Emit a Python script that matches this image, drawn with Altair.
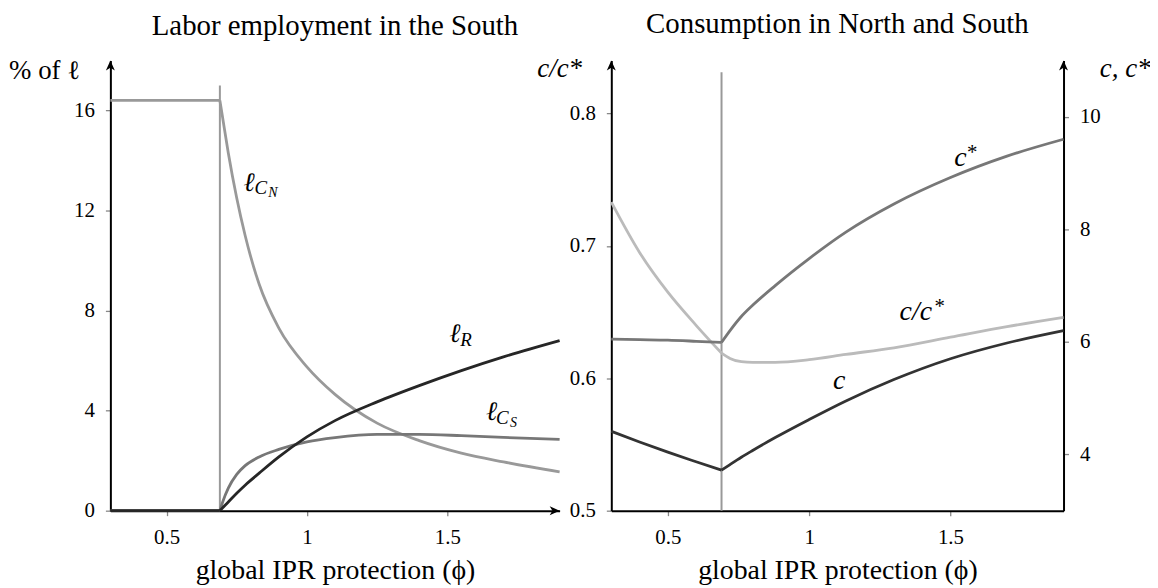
import altair as alt
import pandas as pd

threshold = 0.69

# ---------------- Left panel: labor employment in the South (% of l) ----------------
phi_l_pre = [0.3, 0.69]
lCN_pre = [16.4, 16.4]
lR_pre = [0.0, 0.0]
lCS_pre = [0.0, 0.0]
phi_l_post = [0.69, 0.70, 0.72, 0.75, 0.78, 0.83, 0.90, 1.00, 1.10, 1.25, 1.40, 1.55, 1.70, 1.90]
lCN_post = [16.4, 15.7, 14.3, 12.5, 11.0, 9.05, 7.3, 5.75, 4.65, 3.5, 2.8, 2.3, 1.95, 1.55]
lR_post = [0.0, 0.12, 0.35, 0.70, 1.02, 1.50, 2.15, 2.95, 3.60, 4.35, 5.00, 5.60, 6.15, 6.80]
lCS_post = [0.0, 0.35, 0.90, 1.45, 1.80, 2.15, 2.45, 2.75, 2.92, 3.05, 3.05, 3.00, 2.93, 2.85]

# ---------------- Right panel: consumption in North and South ----------------
phi_r_pre = [0.3, 0.4, 0.5, 0.6, 0.69]
ratio_pre = [0.733, 0.695, 0.665, 0.640, 0.619]
c_pre = [4.41, 4.22, 4.04, 3.87, 3.72]
cstar_pre = [6.05, 6.04, 6.03, 6.01, 5.99]
phi_r_post = [0.69, 0.72, 0.76, 0.80, 0.88, 1.00, 1.13, 1.30, 1.50, 1.70, 1.90]
ratio_post = [0.619, 0.615, 0.6125, 0.612, 0.612, 0.614, 0.618, 0.623, 0.631, 0.639, 0.646]
c_post = [3.72, 3.82, 3.95, 4.07, 4.30, 4.62, 4.95, 5.33, 5.70, 5.98, 6.20]
cstar_post = [5.99, 6.20, 6.45, 6.65, 7.00, 7.48, 7.95, 8.45, 8.92, 9.30, 9.60]

x_ticks = [0.5, 1, 1.5]
left_y_ticks = [0, 4, 8, 12, 16]
ratio_ticks = [0.5, 0.6, 0.7, 0.8]
c_ticks = [4, 6, 8, 10]

X_DOMAIN = [0.3, 1.9]
L_DOMAIN = [0, 18]
R_DOMAIN = [0.5, 0.84]
C_DOMAIN = [3, 11]

FONT = "Liberation Serif"
ARROW = "M0,0 L-0.9,2 L0,1.45 L0.9,2 Z"


def seg_df(pre_x, pre_y, post_x, post_y):
    return pd.DataFrame({
        "phi": list(pre_x) + list(post_x),
        "v": list(pre_y) + list(post_y),
        "seg": ["a"] * len(pre_x) + ["b"] * len(post_x),
    })


x_axis = alt.Axis(values=x_ticks, format="~g", title="global IPR protection (ϕ)",
                  titleFontSize=28, titleY=68, titleBaseline="alphabetic")
X = alt.X("phi:Q", scale=alt.Scale(domain=X_DOMAIN, nice=False, zero=False), axis=x_axis)


def lines(df, color, Y, width=2.8):
    return alt.Chart(df).mark_line(color=color, strokeWidth=width, interpolate="monotone").encode(
        x=X, y=Y, detail="seg:N")


def label(pieces, phi, v, Y):
    layers = []
    for text, dx, dy, size in pieces:
        d = pd.DataFrame({"phi": [phi], "v": [v], "t": [text]})
        layers.append(alt.Chart(d).mark_text(
            align="left", baseline="alphabetic", font=FONT, fontStyle="italic",
            fontSize=size, dx=dx, dy=dy, color="black").encode(x=X, y=Y, text="t:N"))
    return layers


def arrow(phi, v, Y, angle=0):
    d = pd.DataFrame({"phi": [phi], "v": [v]})
    return alt.Chart(d).mark_point(shape=ARROW, size=100, filled=True, color="black",
                                   opacity=1, strokeWidth=0, angle=angle).encode(x=X, y=Y)


# ---------------- Left chart ----------------
YL = alt.Y("v:Q", scale=alt.Scale(domain=L_DOMAIN, nice=False),
           axis=alt.Axis(values=left_y_ticks, format="d", title="% of ℓ", titleAngle=0,
                         titleAlign="right", titleBaseline="alphabetic", titleX=-31, titleY=18,
                         titleFontSize=27))

rule_l = alt.Chart(pd.DataFrame({"phi": [threshold], "v": [0.0], "v2": [17.0]})).mark_rule(
    color="#999999", strokeWidth=2).encode(x=X, y=YL, y2="v2:Q")

left_layers = [
    rule_l,
    lines(seg_df(phi_l_pre, lCN_pre, phi_l_post, lCN_post), "#999999", YL),
    lines(seg_df(phi_l_pre, lCS_pre, phi_l_post, lCS_post), "#777777", YL),
    lines(seg_df(phi_l_pre, lR_pre, phi_l_post, lR_post), "#262626", YL),
]
left_layers += label([("ℓ", 0, 0, 27), ("C", 11, 4, 19), ("N", 25, 7, 14)], 0.774, 12.8, YL)
left_layers += label([("ℓ", 0, 0, 27), ("R", 11, 4, 19)], 1.507, 6.73, YL)
left_layers += label([("ℓ", 0, 0, 27), ("C", 10, 4, 19), ("S", 24, 7, 14)], 1.638, 3.64, YL)
left_layers += [arrow(0.3, 18, YL), arrow(1.9, 0, YL, angle=90)]

left = alt.layer(*left_layers).properties(
    width=452, height=453,
    title=alt.TitleParams("Labor employment in the South", font=FONT, fontSize=29,
                          fontWeight="normal", baseline="alphabetic", offset=-7, frame="group"))

# ---------------- Right chart ----------------
YR = alt.Y("v:Q", scale=alt.Scale(domain=R_DOMAIN, nice=False, zero=False),
           axis=alt.Axis(values=ratio_ticks, format=".1f", title="c/c*", titleAngle=0,
                         titleAlign="right", titleBaseline="alphabetic", titleX=-30, titleY=16,
                         titleFontSize=27, titleFontStyle="italic", orient="left"))
YC = alt.Y("v:Q", scale=alt.Scale(domain=C_DOMAIN, nice=False, zero=False),
           axis=alt.Axis(values=c_ticks, format="d", title="c, c*", titleAngle=0,
                         titleAlign="left", titleBaseline="alphabetic", titleX=36, titleY=16,
                         titleFontSize=27, titleFontStyle="italic", orient="right"))

rule_r = alt.Chart(pd.DataFrame({"phi": [threshold], "v": [0.5], "v2": [0.831]})).mark_rule(
    color="#999999", strokeWidth=2).encode(x=X, y=YR, y2="v2:Q")

ratio_layers = [
    rule_r,
    lines(seg_df(phi_r_pre, ratio_pre, phi_r_post, ratio_post), "#bbbbbb", YR),
]
ratio_layers += label([("c", 0, 0, 28), ("*", 12, -7, 21)], 1.513, 0.760, YR)
ratio_layers += label([("c/c", 0, 0, 28), ("*", 34, -7, 21)], 1.32, 0.644, YR)
ratio_layers += label([("c", 0, 0, 28)], 1.084, 0.592, YR)
ratio_layers += [arrow(0.3, 0.84, YR), arrow(1.9, 0.84, YR)]
ratio_part = alt.layer(*ratio_layers)

c_part = alt.layer(
    lines(seg_df(phi_r_pre, cstar_pre, phi_r_post, cstar_post), "#777777", YC),
    lines(seg_df(phi_r_pre, c_pre, phi_r_post, c_post), "#333333", YC),
)

right = alt.layer(ratio_part, c_part).resolve_scale(y="independent").properties(
    width=455, height=453,
    title=alt.TitleParams("Consumption in North and South", font=FONT, fontSize=29,
                          fontWeight="normal", baseline="alphabetic", offset=-7, frame="group"))

chart = alt.hconcat(left, right, spacing=52, bounds="flush").properties(
    padding={"left": 0, "top": 0, "right": 0, "bottom": 0}
).configure_view(stroke=None).configure_axis(
    domainColor="black", domainWidth=2, tickColor="#888888", tickWidth=1.3, tickSize=5,
    labelFont=FONT, labelFontSize=21, labelColor="black", labelPadding=11,
    titleFont=FONT, titleFontWeight="normal", titleColor="black", grid=False,
)

chart.save("out.html", embed_options={"renderer": "svg", "actions": False})
